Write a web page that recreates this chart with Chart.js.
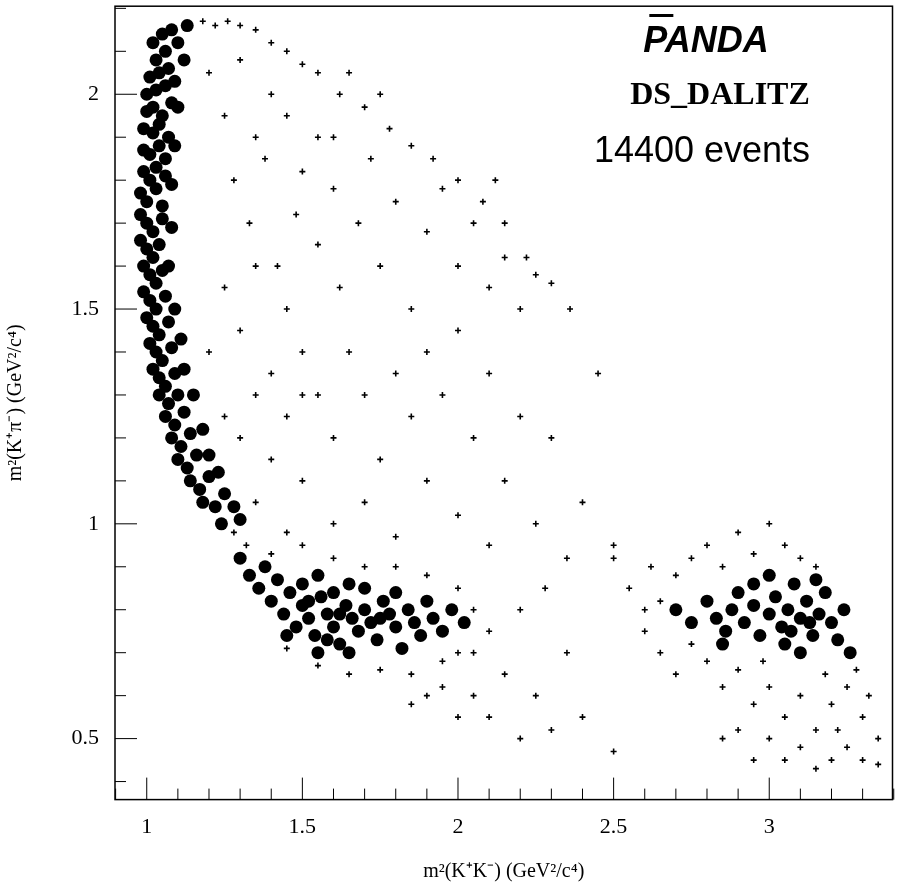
<!DOCTYPE html>
<html>
<head>
<meta charset="utf-8">
<script src="https://cdn.jsdelivr.net/npm/chart.js@4"></script>
<style>
  body { margin: 0; background: #fff; overflow: hidden; }
  #wrap { width: 899px; height: 907px; margin-top: -15px; }
</style>
</head>
<body>
<div id="wrap"><canvas id="c"></canvas></div>
<script>
// points: [m2(K+K-), m2(K+pi-)]
const leftBand = [[1.02,2.12],[1.05,2.14],[1.08,2.15],[1.03,2.08],[1.06,2.1],[1.1,2.12],[1.01,2.04],[1.04,2.05],[1.07,2.06],[1.0,2.0],[1.03,2.01],[1.06,2.02],[1.09,2.03],[1.0,1.96],[1.02,1.97],[1.05,1.95],[1.08,1.98],[0.99,1.92],[1.02,1.91],[1.04,1.93],[1.07,1.9],[0.99,1.87],[1.01,1.86],[1.04,1.88],[1.06,1.85],[0.99,1.82],[1.01,1.8],[1.03,1.83],[1.06,1.81],[0.98,1.77],[1.0,1.75],[1.03,1.78],[1.05,1.74],[0.98,1.72],[1.0,1.7],[1.02,1.68],[1.05,1.71],[0.98,1.66],[1.0,1.64],[1.02,1.62],[1.04,1.65],[0.99,1.6],[1.01,1.58],[1.03,1.56],[1.05,1.59],[0.99,1.54],[1.01,1.52],[1.03,1.5],[1.06,1.53],[1.0,1.48],[1.02,1.46],[1.04,1.44],[1.07,1.47],[1.01,1.42],[1.03,1.4],[1.05,1.38],[1.08,1.41],[1.02,1.36],[1.04,1.34],[1.06,1.32],[1.09,1.35],[1.04,1.3],[1.07,1.28],[1.1,1.3],[1.06,1.25],[1.09,1.23],[1.12,1.26],[1.08,1.2],[1.11,1.18],[1.14,1.21],[1.1,1.15],[1.13,1.13],[1.16,1.16],[1.14,1.1],[1.17,1.08],[1.2,1.11],[1.18,1.05],[1.22,1.04],[1.25,1.07],[1.24,1.0],[1.13,2.16],[1.12,2.08],[1.1,1.97],[1.09,1.88],[1.08,1.79],[1.08,1.69],[1.07,1.6],[1.09,1.5],[1.11,1.43],[1.12,1.36],[1.15,1.3],[1.18,1.22],[1.2,1.16],[1.23,1.12],[1.28,1.04],[1.3,1.01]];
const lowerBand = [[1.3,0.92],[1.33,0.88],[1.36,0.85],[1.38,0.9],[1.4,0.82],[1.42,0.87],[1.44,0.79],[1.46,0.84],[1.48,0.76],[1.5,0.81],[1.52,0.78],[1.54,0.74],[1.56,0.83],[1.58,0.79],[1.6,0.76],[1.62,0.72],[1.64,0.81],[1.66,0.78],[1.68,0.75],[1.7,0.8],[1.72,0.77],[1.74,0.73],[1.76,0.82],[1.78,0.79],[1.8,0.76],[1.82,0.71],[1.84,0.8],[1.86,0.77],[1.88,0.74],[1.9,0.82],[1.92,0.78],[1.95,0.75],[1.98,0.8],[2.02,0.77],[1.5,0.86],[1.55,0.88],[1.6,0.84],[1.65,0.86],[1.7,0.85],[1.75,0.78],[1.45,0.74],[1.55,0.7],[1.65,0.7],[1.8,0.84],[1.62,0.79],[1.52,0.82],[1.58,0.73]];
const rightBand = [[2.7,0.8],[2.75,0.77],[2.8,0.82],[2.83,0.78],[2.86,0.75],[2.88,0.8],[2.9,0.84],[2.92,0.77],[2.95,0.81],[2.97,0.74],[3.0,0.79],[3.02,0.83],[3.04,0.76],[3.06,0.8],[3.08,0.86],[3.1,0.78],[3.12,0.82],[3.14,0.74],[3.16,0.79],[3.18,0.84],[3.2,0.77],[3.22,0.73],[3.24,0.8],[3.26,0.7],[3.05,0.72],[3.1,0.7],[2.95,0.86],[3.0,0.88],[3.15,0.87],[2.85,0.72],[3.13,0.77],[3.07,0.75]];
const sparse = [[1.18,2.17],[1.22,2.16],[1.26,2.17],[1.3,2.16],[1.35,2.15],[1.4,2.12],[1.45,2.1],[1.5,2.07],[1.55,2.05],[1.62,2.0],[1.7,1.97],[1.78,1.92],[1.85,1.88],[1.92,1.85],[2.0,1.8],[2.08,1.75],[2.15,1.7],[2.22,1.62],[2.3,1.56],[2.36,1.5],[1.2,2.05],[1.25,1.95],[1.3,2.08],[1.35,1.9],[1.4,2.0],[1.28,1.8],[1.33,1.7],[1.38,1.85],[1.45,1.95],[1.5,1.82],[1.42,1.6],[1.48,1.72],[1.55,1.9],[1.6,1.78],[1.25,1.55],[1.3,1.45],[1.35,1.6],[1.4,1.35],[1.45,1.5],[1.5,1.4],[1.55,1.65],[1.62,1.55],[1.68,1.7],[1.72,1.85],[1.75,1.6],[1.8,1.75],[1.85,1.5],[1.9,1.68],[1.95,1.78],[2.0,1.6],[2.05,1.7],[2.1,1.55],[2.15,1.62],[2.2,1.5],[2.25,1.58],[1.2,1.4],[1.25,1.25],[1.3,1.2],[1.35,1.3],[1.4,1.15],[1.45,1.25],[1.5,1.1],[1.55,1.3],[1.6,1.2],[1.65,1.4],[1.7,1.3],[1.75,1.15],[1.8,1.35],[1.85,1.25],[1.9,1.4],[1.95,1.3],[2.0,1.45],[2.05,1.2],[2.1,1.35],[2.15,1.1],[2.2,1.25],[2.3,1.2],[2.45,1.35],[1.35,1.05],[1.45,0.98],[1.6,1.0],[1.7,1.05],[1.8,0.97],[1.9,1.1],[2.0,1.02],[2.1,0.95],[2.25,1.0],[2.35,0.92],[2.4,1.05],[2.5,0.95],[2.2,0.8],[2.15,0.65],[2.1,0.55],[2.2,0.5],[2.3,0.52],[2.4,0.55],[2.35,0.7],[2.25,0.6],[2.5,0.47],[2.05,0.6],[2.0,0.7],[1.95,0.62],[1.85,0.58],[2.28,0.85],[1.6,1.9],[1.65,2.05],[1.75,2.0],[1.5,1.3],[2.12,1.8],
  [1.28,0.98],[1.32,0.95],[1.4,0.93],[1.5,0.95],[1.6,0.92],[1.7,0.9],[1.8,0.9],[1.9,0.88],[2.0,0.85],[2.05,0.8],[2.1,0.75],[2.05,0.7],[1.95,0.68],[1.85,0.65],[1.75,0.66],[1.65,0.65],[1.55,0.67],[1.45,0.71],[1.9,0.6],[2.0,0.55],
  [2.5,0.92],[2.55,0.85],[2.6,0.8],[2.6,0.75],[2.62,0.9],[2.65,0.7],[2.7,0.65],[2.7,0.88],[2.75,0.92],[2.8,0.95],[2.85,0.9],[2.9,0.98],[2.95,0.93],[3.0,1.0],[3.05,0.95],[3.1,0.92],[3.15,0.9],[2.8,0.68],[2.85,0.62],[2.9,0.66],[2.95,0.58],[3.0,0.62],[3.05,0.55],[3.1,0.6],[3.15,0.52],[3.2,0.58],[3.25,0.62],[3.3,0.55],[3.35,0.5],[3.0,0.5],[3.05,0.45],[3.1,0.48],[3.15,0.43],[3.2,0.45],[3.25,0.48],[3.3,0.45],[2.95,0.45],[2.9,0.52],[3.28,0.66],[3.32,0.6],[2.75,0.72],[2.65,0.82],[2.98,0.68],[3.18,0.65],[3.22,0.52],[2.85,0.5],[3.35,0.44]];
const xTicks = [1, 1.5, 2, 2.5, 3];
const yTicks = [0.5, 1, 1.5, 2];

const toPts = (arr) => arr.map(p => ({ x: p[0], y: p[1] }));

const frameTicks = {
    id: 'frameTicks',
    afterDraw(chart) {
        const ctx = chart.ctx;
        const a = chart.chartArea;
        const xs = chart.scales.x, ys = chart.scales.y;
        ctx.save();
        ctx.strokeStyle = '#000';
        ctx.lineWidth = 1.5;
        ctx.strokeRect(a.left, a.top, a.right - a.left, a.bottom - a.top);
        ctx.lineWidth = 1;
        ctx.beginPath();
        for (let i = 9; i <= 34; i++) {
            const px = xs.getPixelForValue(i / 10);
            const len = (i % 5 === 0) ? 22 : 11;
            ctx.moveTo(px, a.bottom); ctx.lineTo(px, a.bottom - len);
        }
        for (let i = 4; i <= 22; i++) {
            const py = ys.getPixelForValue(i / 10);
            if (py < a.top || py > a.bottom) continue;
            const len = (i % 5 === 0) ? 22 : 11;
            ctx.moveTo(a.left, py); ctx.lineTo(a.left + len, py);
        }
        ctx.stroke();

        // labels top right (canvas is shifted up 15px)
        const off = 15;
        ctx.fillStyle = '#000';
        ctx.textAlign = 'center';
        ctx.textBaseline = 'alphabetic';
        ctx.font = 'italic bold 36px "Liberation Sans"';
        ctx.fillText('PANDA', 706, 52 + off);
        const w = ctx.measureText('PANDA').width;
        const pw = ctx.measureText('P').width;
        ctx.fillRect(706 - w / 2 + 6, 14 + off, pw, 3);
        ctx.font = 'bold 32px "Liberation Serif"';
        ctx.fillText('DS_DALITZ', 720, 104 + off);
        ctx.font = '36px "Liberation Sans"';
        ctx.fillText('14400 events', 702, 162 + off);
        ctx.restore();
    }
};

const dense = (arr) => ({ data: toPts(arr), pointStyle: 'circle', radius: 6.5, borderWidth: 0, backgroundColor: '#000' });

new Chart(document.getElementById('c'), {
    type: 'scatter',
    data: {
        datasets: [
            { data: toPts(sparse), pointStyle: 'cross', radius: 3, borderWidth: 1.6, borderColor: '#000', backgroundColor: '#000' },
            dense(leftBand),
            dense(lowerBand),
            dense(rightBand)
        ]
    },
    options: {
        responsive: true,
        maintainAspectRatio: false,
        animation: false,
        events: [],
        layout: { padding: { top: 0, right: 2, left: 0, bottom: 0 } },
        plugins: { legend: { display: false }, tooltip: { enabled: false } },
        scales: {
            x: {
                type: 'linear', min: 0.898, max: 3.396,
                grid: { display: false },
                border: { display: false },
                afterBuildTicks: (s) => { s.ticks = xTicks.map(v => ({ value: v })); },
                ticks: { color: '#000', font: { family: 'Liberation Serif', size: 22 }, padding: 6, callback: (v) => String(v) },
                title: { display: true, text: 'm²(K⁺K⁻) (GeV²/c⁴)', color: '#000', font: { family: 'Liberation Serif', size: 20 }, padding: { top: 14, bottom: 8 } }
            },
            y: {
                type: 'linear', min: 0.358, max: 2.205,
                grid: { display: false },
                border: { display: false },
                afterBuildTicks: (s) => { s.ticks = yTicks.map(v => ({ value: v })); },
                afterFit: (s) => { s.width = 115; },
                ticks: { color: '#000', font: { family: 'Liberation Serif', size: 22 }, padding: 8, callback: (v) => String(v) },
                title: { display: true, text: 'm²(K⁺π⁻) (GeV²/c⁴)', color: '#000', font: { family: 'Liberation Serif', size: 20 }, padding: { bottom: 4 } }
            }
        }
    },
    plugins: [frameTicks]
});
</script>
</body>
</html>
